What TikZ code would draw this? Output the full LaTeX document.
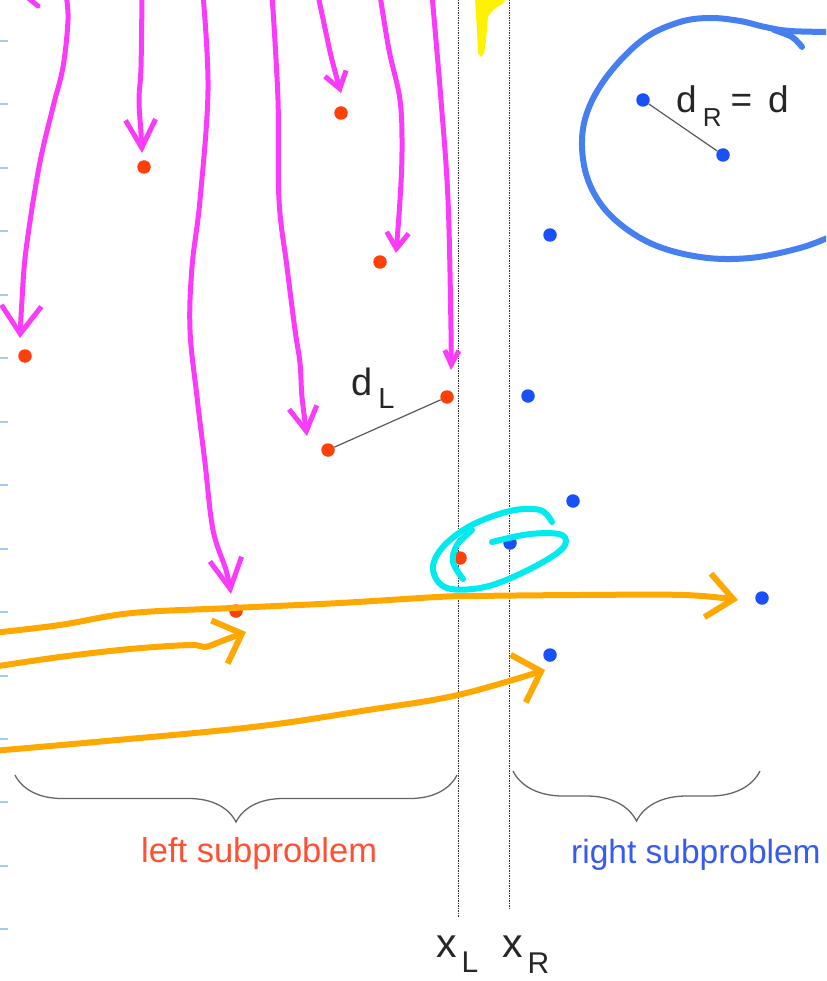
\documentclass[tikz,border=0pt]{standalone}
\usepackage{fontspec}
\setmainfont{Liberation Sans}
\usetikzlibrary{arrows.meta,decorations.pathreplacing}
\definecolor{cpRedDot}{RGB}{255,64,10}
\definecolor{cpBlueDot}{RGB}{25,80,250}
\definecolor{cpRedText}{RGB}{255,80,50}
\definecolor{cpBlueText}{RGB}{55,90,240}
\definecolor{cpMagenta}{RGB}{250,60,250}
\definecolor{cpOrange}{RGB}{255,168,0}
\definecolor{cpCyan}{RGB}{0,235,240}
\definecolor{cpRing}{RGB}{70,128,240}
\definecolor{cpTick}{RGB}{160,205,245}
\begin{document}
\begin{tikzpicture}[x=1pt,y=-1pt,
    cpRed/.style={circle,fill=cpRedDot,inner sep=0pt,minimum size=13.5pt},
    cpBlue/.style={circle,fill=cpBlueDot,inner sep=0pt,minimum size=13.5pt},
    cpPair/.style={draw=black!65,line width=1.2pt},
    cpSplit/.style={draw=black!80,line width=0.8pt,dash pattern=on 1.5pt off 1pt},
    cpBrace/.style={decorate,decoration={brace,mirror,amplitude=#1},draw=black!60,line width=1.3pt},
    cpLabel/.style={anchor=base west,inner sep=0pt,text=black!85},
    cpPen/.style={line width=5pt,line cap=round,line join=round},
    cpMagArrow/.style={cpPen,draw=cpMagenta,-{Straight Barb[length=20pt,width=28pt]}},
    cpOrgArrow/.style={cpPen,line width=6pt,draw=cpOrange,-{Straight Barb[length=26pt,width=44pt]}},
]
\useasboundingbox (0,0) rectangle (826,981);
\clip (0,0) rectangle (826,981);
\fill[white] (0,0) rectangle (826,981);
\foreach \k in {0,...,14}
  \draw[cpTick,line width=2pt] (0,41+63.45*\k) -- (8,41+63.45*\k);

\coordinate (splitLTop) at (458,0);
\coordinate (splitLEnd) at (458,917);
\coordinate (splitRTop) at (509,0);
\coordinate (splitREnd) at (509,909);
\draw[cpSplit] (splitLTop) -- (splitLEnd);
\draw[cpSplit] (splitRTop) -- (splitREnd);

\coordinate (braceL1) at (15,775);
\coordinate (braceL2) at (457,775);
\coordinate (braceR1) at (513,771);
\coordinate (braceR2) at (760,771);
\draw[cpBrace=47pt] (braceL1) -- (braceL2);
\draw[cpBrace=50pt] (braceR1) -- (braceR2);

\node[cpRed] (lA) at (144,167) {};
\node[cpRed] (lB) at (341,113) {};
\node[cpRed] (lC) at (380,262) {};
\node[cpRed] (lD) at (25,356) {};
\node[cpRed] (lE) at (447,397) {};
\node[cpRed] (lF) at (328,450) {};
\node[cpRed] (lG) at (460,558) {};
\node[cpRed] (lH) at (236,611) {};
\node[cpBlue] (rA) at (643,100) {};
\node[cpBlue] (rB) at (723,155) {};
\node[cpBlue] (rC) at (550,235) {};
\node[cpBlue] (rD) at (528,396) {};
\node[cpBlue] (rE) at (573,501) {};
\node[cpBlue] (rF) at (510,543) {};
\node[cpBlue] (rG) at (762,598) {};
\node[cpBlue] (rH) at (550,655) {};
\draw[cpPair] (lF) -- (lE);
\draw[cpPair] (rA) -- (rB);

\node[cpLabel,font=\fontsize{38}{40}\selectfont] (dL) at (351,395) {d\kern6pt\raisebox{-13pt}{\fontsize{29}{29}\selectfont L}};
\node[cpLabel,font=\fontsize{37}{40}\selectfont] (dR) at (676,113) {d\kern6pt\raisebox{-14pt}{\fontsize{26}{26}\selectfont R}\kern9pt=\kern16pt d};
\node[cpLabel,font=\fontsize{41}{44}\selectfont] (xL) at (436,957) {x\kern5pt\raisebox{-15pt}{\fontsize{30}{30}\selectfont L}};
\node[cpLabel,font=\fontsize{41}{44}\selectfont] (xR) at (502,957) {x\kern5pt\raisebox{-16pt}{\fontsize{30}{30}\selectfont R}};
\node[cpLabel,text=cpRedText,font=\fontsize{34.5}{40}\selectfont] (leftSub) at (141,862) {left subproblem};
\node[cpLabel,text=cpBlueText,font=\fontsize{33.5}{40}\selectfont] (rightSub) at (571,863) {right subproblem};

\coordinate (tipD) at (20,338);
\coordinate (tipA) at (142,153);
\coordinate (tipH) at (231,594);
\coordinate (tipF) at (307,436);
\coordinate (tipB) at (341,93);
\coordinate (tipC) at (396,253);
\coordinate (tipE) at (451,370);
\draw[cpMagArrow,-{Straight Barb[length=28pt,width=40pt]}] plot[smooth,tension=0.6] coordinates {(66,-5) (68,20) (63,67) (53,107) (39,167) (26,250) (22,300) (tipD)};
\draw[cpPen,draw=cpMagenta] (27,-3) -- (38,6);
\draw[cpMagArrow,-{Straight Barb[length=28pt,width=30pt]}] plot[smooth,tension=0.6] coordinates {(142,-5) (141,67) (139,100) (141,133) (tipA)};
\draw[cpMagArrow,-{Straight Barb[length=30pt,width=32pt]}] plot[smooth,tension=0.6] coordinates {(203,-5) (208,90) (200,200) (192,267) (190,330) (197,397) (205,463) (213,530) (226,570) (tipH)};
\draw[cpMagArrow,-{Straight Barb[length=24pt,width=28pt]}] plot[smooth,tension=0.6] coordinates {(272,-5) (278,100) (279,200) (287,267) (295,330) (300,363) (302,397) (tipF)};
\draw[cpMagArrow,-{Straight Barb[length=16pt,width=22pt]}] plot[smooth,tension=0.6] coordinates {(318,-5) (326,33) (332,60) (tipB)};
\draw[cpMagArrow,-{Straight Barb[length=16pt,width=22pt]}] plot[smooth,tension=0.6] coordinates {(380,-5) (389,50) (400,100) (402,150) (400,200) (tipC)};
\draw[cpMagArrow,-{Straight Barb[length=14pt,width=14pt]}] plot[smooth,tension=0.6] coordinates {(432,-5) (441,100) (448,200) (451,330) (tipE)};

\fill[yellow] (475,0) -- (505,0) -- (503,4) -- (497,7) -- (493,10) -- (490,14) -- (488,17) -- (486,40) -- (484,54) -- (481,57) -- (478,53) -- (477,30) -- cycle;

\draw[cpPen,line width=6pt,draw=cpRing] plot[smooth,tension=0.6] coordinates {(832,32) (790,31) (765,27) (740,21) (710,18) (680,22) (645,38) (612,70) (590,105) (582,140) (588,180) (610,215) (650,243) (700,257) (750,258) (800,248) (832,236)};
\draw[cpPen,line width=6pt,draw=cpRing] plot[smooth,tension=0.6] coordinates {(774,30) (792,37) (802,47)};

\draw[cpPen,line width=6pt,draw=cpCyan] plot[smooth,tension=0.6] coordinates {(492,542) (530,534) (562,535) (562,549) (528,570) (485,587) (447,588) (433,570) (442,548) (470,526) (510,511) (540,510) (552,522)};
\draw[cpPen,line width=6pt,draw=cpCyan] plot[smooth,tension=0.6] coordinates {(463,579) (453,562) (457,545) (472,530)};

\coordinate (tipG) at (738,600);
\coordinate (tipLH) at (246,632);
\coordinate (tipRH) at (545,670);
\draw[cpOrgArrow] plot[smooth,tension=0.6] coordinates {(-8,633) (60,625) (132,613) (232,608) (340,603) (437,597) (474,596) (579,595) (684,595) (tipG)};
\draw[cpOrgArrow,-{Straight Barb[length=24pt,width=46pt]}] plot[smooth,tension=0.6] coordinates {(-8,667) (60,657) (130,649) (190,645) (205,647) (222,641) (tipLH)};
\draw[cpOrgArrow,-{Straight Barb[length=24pt,width=50pt]}] plot[smooth,tension=0.6] coordinates {(-8,751) (95,742) (253,727) (368,710) (458,695) (tipRH)};
\end{tikzpicture}
\end{document}
